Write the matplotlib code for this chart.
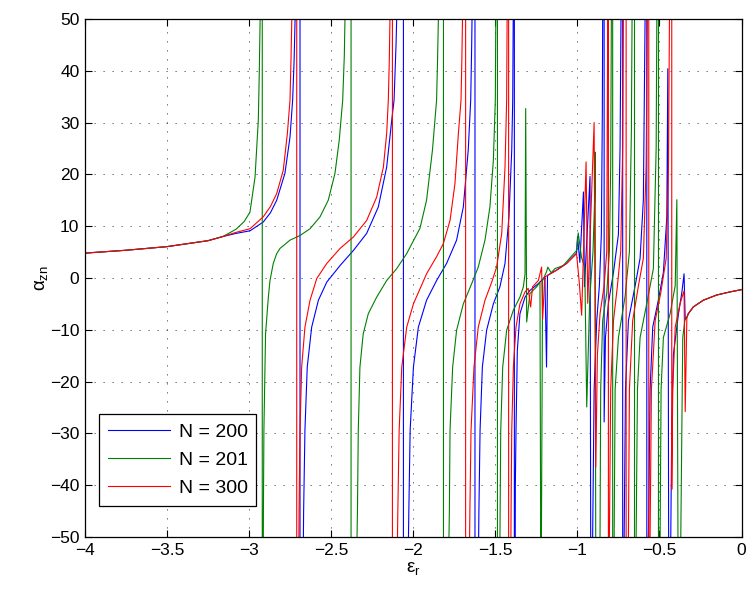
import numpy as np
import matplotlib
matplotlib.use("Agg")
import matplotlib.pyplot as plt

plt.rcParams['font.family'] = ['Liberation Sans', 'DejaVu Sans']
plt.rcParams['mathtext.fontset'] = 'custom'
plt.rcParams['mathtext.rm'] = 'Liberation Sans'
plt.rcParams['mathtext.it'] = 'Liberation Sans'

# shared part of all three curves, left of the first resonance
left_x = [-4.0, -3.75, -3.5, -3.25, -3.16]
left_y = [4.8, 5.35, 6.05, 7.2, 8.0]

# shared tail on the right, after the last resonance
right_x = [-0.333, -0.324, -0.294, -0.233, -0.152, -0.071, 0.0]
right_y = [-7.6, -6.9, -5.6, -4.3, -3.3, -2.7, -2.25]

# N = 200: (eps_r, alpha_zn) samples between the shared parts
n200 = [(-3.08, 8.6), (-2.995, 9.1), (-2.914, 10.8), (-2.870, 12.6), (-2.832, 15.0),
        (-2.782, 20.2), (-2.751, 27.2), (-2.735, 34.3), (-2.726, 42), (-2.720, 50),
        (-2.690, 120), (-2.690, -120), (-2.668, -45), (-2.660, -29.4), (-2.646, -17.2),
        (-2.619, -9.5), (-2.578, -4.3), (-2.527, -0.8), (-2.446, 2.4), (-2.365, 5.3),
        (-2.284, 8.6), (-2.213, 13.7), (-2.162, 21.4), (-2.131, 30.5), (-2.117, 34.3),
        (-2.105, 45), (-2.101, 50), (-2.060, 120), (-2.060, -120), (-2.027, -45),
        (-2.019, -29.4), (-1.999, -17.2), (-1.969, -9.5), (-1.919, -4.3), (-1.858, -0.5),
        (-1.797, 2.8), (-1.736, 7.3), (-1.695, 13.7), (-1.665, 24.7), (-1.650, 34.3),
        (-1.644, 45), (-1.640, 55), (-1.624, 120), (-1.624, -120), (-1.600, -45),
        (-1.593, -29.4), (-1.579, -17.2), (-1.553, -10.1), (-1.512, -5.0), (-1.472, -1.7),
        (-1.441, 2.8), (-1.417, 11.8), (-1.400, 24.7), (-1.394, 34.3), (-1.390, 55),
        (-1.384, 120), (-1.384, -120), (-1.378, -40), (-1.374, -29.4), (-1.366, -14.0),
        (-1.350, -6.9), (-1.319, -3.7), (-1.289, -2.4), (-1.238, -1.1), (-1.198, 0.2),
        (-1.188, -17.2), (-1.182, 0.5), (-1.127, 1.5), (-1.066, 2.8), (-1.005, 4.8),
        (-0.999, 8.0), (-0.985, 3.0), (-0.963, 16.6), (-0.957, -1.7), (-0.923, 19.6),
        (-0.915, -120), (-0.907, -50), (-0.898, -21.5), (-0.882, -8.2), (-0.866, -1.5),
        (-0.854, 8.4), (-0.848, 31.7), (-0.846, 50), (-0.837, 120), (-0.837, -27.8),
        (-0.829, -11.5), (-0.811, -4.9), (-0.780, 1.1), (-0.750, 8.4), (-0.740, 25.1),
        (-0.734, 50), (-0.724, 120), (-0.724, -120), (-0.715, -50), (-0.707, -21.5),
        (-0.689, -8.2), (-0.648, -1.5), (-0.618, 3.8), (-0.598, 15.1), (-0.587, 50),
        (-0.577, 120), (-0.577, -120), (-0.567, -50), (-0.557, -21.5), (-0.541, -9.5),
        (-0.506, -4.2), (-0.476, 1.1), (-0.455, 11.8), (-0.449, 40.4), (-0.443, -70),
        (-0.431, -50), (-0.425, -28.1), (-0.415, -14.8), (-0.384, -6.9), (-0.364, -2.9),
        (-0.350, 0.8), (-0.343, -8.0)]

# N = 201
n201 = [(-3.08, 9.4), (-3.03, 10.9), (-2.995, 12.7), (-2.964, 19.5), (-2.944, 30.5),
        (-2.938, 40), (-2.933, 50), (-2.920, 120), (-2.920, -120), (-2.913, -45),
        (-2.910, -29.4), (-2.900, -10.8), (-2.883, -3.7), (-2.873, -0.5), (-2.853, 2.8),
        (-2.832, 4.7), (-2.812, 5.7), (-2.751, 7.3), (-2.690, 8.2), (-2.629, 9.5),
        (-2.568, 11.8), (-2.518, 15.0), (-2.477, 20.2), (-2.451, 26.6), (-2.430, 34.3),
        (-2.420, 43), (-2.416, 50), (-2.379, 120), (-2.379, -120), (-2.340, -45),
        (-2.335, -29.4), (-2.325, -17.2), (-2.305, -10.8), (-2.274, -6.9), (-2.223, -3.7),
        (-2.162, -0.5), (-2.101, 1.8), (-2.040, 4.7), (-1.980, 8.3), (-1.959, 9.6),
        (-1.919, 15.0), (-1.883, 24.7), (-1.858, 34.3), (-1.852, 42), (-1.847, 50),
        (-1.816, 120), (-1.816, -120), (-1.780, -45), (-1.776, -29.4), (-1.760, -17.2),
        (-1.736, -10.1), (-1.695, -5.0), (-1.644, -1.1), (-1.604, 2.1), (-1.563, 7.3),
        (-1.533, 13.7), (-1.512, 22.7), (-1.500, 34.3), (-1.497, 50), (-1.487, 120),
        (-1.487, -120), (-1.471, -45), (-1.467, -29.4), (-1.455, -17.2), (-1.431, -10.1),
        (-1.390, -6.2), (-1.350, -3.7), (-1.329, -1.7), (-1.319, 0.8), (-1.315, 32.7),
        (-1.309, -8.5), (-1.289, -3.0), (-1.248, -1.7), (-1.228, -0.8), (-1.222, -70),
        (-1.212, -0.5), (-1.188, 1.2), (-1.180, 2.1), (-1.160, 1.0), (-1.137, 1.8),
        (-1.086, 2.4), (-1.005, 5.3), (-0.995, 8.7), (-0.975, 4.0), (-0.955, 2.0),
        (-0.943, -24.9), (-0.925, -4.0), (-0.905, 5.0), (-0.895, 15.0), (-0.892, 24.3),
        (-0.885, -120), (-0.862, -50), (-0.858, -21.5), (-0.846, -8.2), (-0.821, -2.9),
        (-0.805, 5.1), (-0.797, 21.8), (-0.793, 50), (-0.785, 120), (-0.785, -120),
        (-0.776, -50), (-0.770, -21.5), (-0.750, -11.5), (-0.709, -3.5), (-0.683, 5.1),
        (-0.671, 28.4), (-0.667, 50), (-0.652, 120), (-0.652, -120), (-0.642, -50),
        (-0.634, -21.5), (-0.618, -11.5), (-0.577, -4.9), (-0.537, 1.8), (-0.520, 25.1),
        (-0.516, 50), (-0.506, 120), (-0.506, -120), (-0.496, -50), (-0.490, -21.5),
        (-0.476, -11.5), (-0.435, -6.9), (-0.404, -1.5), (-0.394, 15.1), (-0.380, -120),
        (-0.370, -50), (-0.358, -11.5), (-0.345, -8.2)]

# N = 300
n300 = [(-3.08, 8.8), (-2.995, 9.5), (-2.914, 11.8), (-2.870, 13.8), (-2.832, 16.3),
        (-2.792, 20.8), (-2.767, 27.9), (-2.751, 34.3), (-2.745, 42), (-2.740, 50),
        (-2.710, 120), (-2.710, -120), (-2.696, -45), (-2.690, -29.4), (-2.680, -17.2),
        (-2.660, -9.5), (-2.629, -4.3), (-2.588, -0.1), (-2.527, 2.8), (-2.446, 5.7),
        (-2.365, 7.9), (-2.284, 11.1), (-2.223, 15.6), (-2.182, 21.4), (-2.162, 27.9),
        (-2.152, 34.3), (-2.146, 42), (-2.142, 50), (-2.127, 120), (-2.127, -120),
        (-2.094, -45), (-2.086, -29.4), (-2.070, -17.2), (-2.040, -9.5), (-1.999, -5.0),
        (-1.959, -2.1), (-1.919, 0.8), (-1.858, 4.1), (-1.817, 6.6), (-1.776, 11.1),
        (-1.746, 18.2), (-1.725, 27.9), (-1.709, 34.3), (-1.704, 42), (-1.700, 50),
        (-1.681, 120), (-1.681, -120), (-1.655, -45), (-1.648, -29.4), (-1.630, -17.2),
        (-1.604, -9.5), (-1.563, -4.3), (-1.522, -0.8), (-1.492, 2.1), (-1.461, 8.6),
        (-1.441, 21.4), (-1.431, 34.3), (-1.428, 50), (-1.419, 120), (-1.419, -120),
        (-1.404, -45), (-1.400, -29.4), (-1.390, -17.2), (-1.374, -9.5), (-1.350, -5.0),
        (-1.319, -2.7), (-1.300, -2.0), (-1.285, -5.6), (-1.273, -1.7), (-1.238, -0.5),
        (-1.218, 2.1), (-1.212, -8.0), (-1.198, 0.2), (-1.127, 1.5), (-1.066, 2.8),
        (-1.005, 4.7), (-0.988, -1.1), (-0.974, -7.2), (-0.947, 22.4), (-0.937, -4.9),
        (-0.898, 30.0), (-0.888, -36.5), (-0.878, -14.8), (-0.862, -6.9), (-0.837, -1.5),
        (-0.821, 5.1), (-0.815, 50), (-0.811, 120), (-0.811, -120), (-0.805, -50),
        (-0.797, -21.5), (-0.780, -8.2), (-0.756, -1.5), (-0.736, 5.1), (-0.724, 25.1),
        (-0.720, 50), (-0.703, 120), (-0.703, -120), (-0.689, -50), (-0.683, -21.5),
        (-0.663, -8.2), (-0.628, -1.5), (-0.598, 3.8), (-0.581, 21.8), (-0.573, 50),
        (-0.565, 120), (-0.565, -120), (-0.557, -50), (-0.549, -21.5), (-0.526, -8.2),
        (-0.492, -2.9), (-0.459, 3.8), (-0.445, 21.8), (-0.439, 50), (-0.425, 120),
        (-0.425, -40.8), (-0.419, -21.5), (-0.404, -9.5), (-0.374, -4.9), (-0.350, -2.5),
        (-0.343, -25.8)]

labels = ['N = 200', 'N = 201', 'N = 300']
colors = ['#0000ff', '#008000', '#ff0000']


def full_curve(mid):
    mx, my = zip(*mid)
    x = np.concatenate([left_x, mx, right_x])
    y = np.concatenate([left_y, my, right_y])
    return x, y


fig = plt.figure(figsize=(7.49, 5.94), dpi=100)
ax = fig.add_axes([0.1135, 0.096, 0.8765, 0.8721])

for mid, lab, col in zip([n200, n201, n300], labels, colors):
    x, y = full_curve(mid)
    ax.plot(x, y, color=col, lw=0.8, label=lab)

ax.set_xlim(-4, 0)
ax.set_ylim(-50, 50)
ax.set_xticks(np.arange(-4, 0.01, 0.5))
ax.set_yticks(np.arange(-50, 51, 10))
ax.set_xticklabels(['\u22124', '\u22123.5', '\u22123', '\u22122.5', '\u22122',
                    '\u22121.5', '\u22121', '\u22120.5', '0'])
ax.set_yticklabels(['\u221250', '\u221240', '\u221230', '\u221220', '\u221210',
                    '0', '10', '20', '30', '40', '50'])
ax.tick_params(direction='in', top=True, right=True, length=4.7, width=0.8,
               labelsize=12.5, pad=4)
ax.grid(True, color='0.25', linestyle=(0, (1.5, 9.3)), linewidth=0.6)
for s in ax.spines.values():
    s.set_linewidth(0.9)

ax.set_xlabel(r'$\epsilon_r$', fontsize=13.5, labelpad=2)
ax.set_ylabel(r'$\alpha_{zn}$', fontsize=13.5, labelpad=0)

leg = ax.legend(loc='lower left', bbox_to_anchor=(0.0213, 0.06), borderaxespad=0,
                fontsize=14, fancybox=False, framealpha=1, edgecolor='black',
                handlelength=3.2, handletextpad=0.45, borderpad=0.45, labelspacing=0.55)
leg.get_frame().set_linewidth(0.9)

fig.savefig('out.png', dpi=100)
